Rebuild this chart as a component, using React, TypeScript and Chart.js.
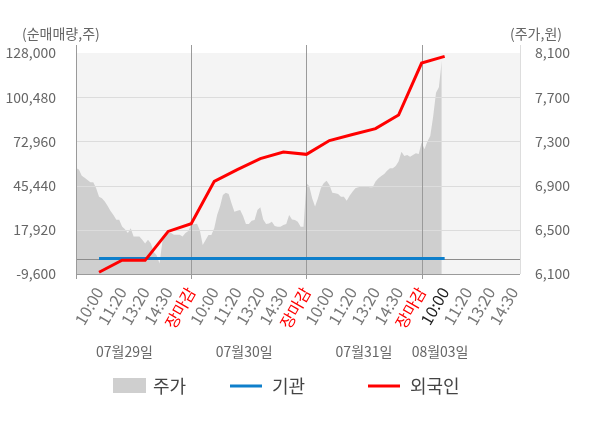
import { useEffect, useRef } from 'react';
import { Chart, registerables, type ChartOptions, type Plugin } from 'chart.js';

Chart.register(...registerables);

const FONT = '"Noto Sans CJK KR", "Noto Sans", sans-serif';

// x축 시간 라벨 (하루 5칸, 마지막 날은 진행 중)
const tickLabels = [
  '10:00', '11:20', '13:20', '14:30', '장마감',
  '10:00', '11:20', '13:20', '14:30', '장마감',
  '10:00', '11:20', '13:20', '14:30', '장마감',
  '10:00', '11:20', '13:20', '14:30',
];
const dateLabels = ['07월29일', '07월30일', '07월31일', '08월03일'];

// 순매매량 (라벨 시점마다 1개)
const foreignNet = [
  -8500, -1000, -1100, 16900, 21700, 48100, 55400, 62200,
  66400, 64900, 73500, 77300, 80900, 89400, 121700, 125900,
];
const institutionNet = [0, 0, 0, 0, 0, 0, 0, 0, 0, 0, 0, 0, 0, 0, 0, 0];

// 주가 (한 칸당 8개 샘플)
const priceDay1 = [
  7060, 7045, 6990, 6970, 6950, 6930, 6930, 6875, 6800, 6785,
  6755, 6715, 6670, 6635, 6590, 6590, 6530, 6505, 6470, 6515,
  6440, 6440, 6440, 6410, 6375, 6410, 6375, 6300, 6270, 6195,
  6395, 6455, 6470, 6470, 6455, 6455, 6455, 6440, 6470, 6490,
];
const priceDay2 = [
  6550, 6550, 6555, 6495, 6362, 6408, 6453, 6453, 6513, 6635,
  6710, 6815, 6836, 6824, 6740, 6664, 6673, 6679, 6625, 6552,
  6552, 6582, 6588, 6679, 6703, 6594, 6552, 6558, 6573, 6534,
  6528, 6528, 6543, 6552, 6635, 6594, 6588, 6573, 6528, 6528,
];
const priceDay3 = [
  6921, 6895, 6785, 6710, 6785, 6876, 6921, 6945, 6905, 6836,
  6830, 6824, 6800, 6800, 6764, 6809, 6845, 6876, 6885, 6890,
  6890, 6890, 6885, 6885, 6936, 6966, 6987, 7005, 7035, 7056,
  7056, 7077, 7117, 7207, 7168, 7177, 7162, 7177, 7192, 7186,
];
const priceDay4 = [7290, 7230, 7300, 7350, 7524, 7740, 7790, 8030];

const SAMPLES_PER_SLOT = 8;
const SLOTS_PER_DAY = 5;
const DATE_LABEL_AT = [2.1, 7.3, 12.5, 15.8];

const COLOR_PRICE = '#cfcfcf';
const COLOR_INST = '#0e7fcb';
const COLOR_FOREIGN = '#ff0000';

const App = () => {
  const canvasRef = useRef<HTMLCanvasElement | null>(null);
  const chartRef = useRef<Chart<'line'> | null>(null);

  useEffect(() => {
    if (!canvasRef.current) return;

    const prices = [...priceDay1, ...priceDay2, ...priceDay3, ...priceDay4];
    const latestTick = foreignNet.length;

    const line = (ctx: CanvasRenderingContext2D, x1: number, y1: number, x2: number, y2: number) => {
      ctx.beginPath();
      ctx.moveTo(x1, y1);
      ctx.lineTo(x2, y2);
      ctx.stroke();
    };

    const overlay: Plugin<'line'> = {
      id: 'overlay',
      beforeDatasetsDraw: (chart) => {
        const { ctx, chartArea: a } = chart;
        ctx.save();
        ctx.fillStyle = '#f4f4f4';
        ctx.fillRect(a.left, a.top, a.right - a.left, a.bottom - a.top);
        ctx.restore();
      },
      afterDatasetDraw: (chart, args) => {
        // 주가 영역 위에 격자를 그린다
        if (args.index !== 0) return;
        const { ctx, chartArea: a, scales } = chart;
        const yNet = scales.yNet;
        const x = scales.x;
        ctx.save();
        ctx.lineWidth = 1;
        ctx.strokeStyle = '#dcdcdc';
        yNet.ticks.forEach((t) => {
          if (t.value === yNet.min || t.value === yNet.max) return;
          const y = Math.round(yNet.getPixelForValue(t.value)) + 0.5;
          line(ctx, a.left, y, a.right, y);
        });
        ctx.strokeStyle = '#dddddd';
        line(ctx, Math.round(a.right) + 0.5, a.top - 8, Math.round(a.right) + 0.5, a.bottom);
        ctx.strokeStyle = '#8c8c8c';
        const zeroY = Math.round(yNet.getPixelForValue(0)) + 0.5;
        line(ctx, a.left, zeroY, a.right, zeroY);
        ctx.strokeStyle = '#9a9a9a';
        for (let d = 0; d < dateLabels.length; d++) {
          const px = Math.round(x.getPixelForValue(d * SLOTS_PER_DAY)) + 0.5;
          line(ctx, px, a.top - 8, px, a.bottom + 5);
        }
        line(ctx, a.left, Math.round(a.bottom) + 0.5, a.right, Math.round(a.bottom) + 0.5);
        ctx.restore();
      },
      afterDraw: (chart) => {
        const { ctx, scales } = chart;
        ctx.save();
        ctx.textBaseline = 'middle';
        ctx.fillStyle = '#666';
        ctx.font = `14px ${FONT}`;
        ctx.textAlign = 'left';
        ctx.fillText('(순매매량,주)', 22, 34);
        ctx.textAlign = 'right';
        ctx.fillText('(주가,원)', 562, 34);

        ctx.textAlign = 'center';
        dateLabels.forEach((d, i) => {
          ctx.fillText(d, scales.x.getPixelForValue(DATE_LABEL_AT[i]), 352);
        });

        // 범례
        const ly = 386;
        ctx.font = `18px ${FONT}`;
        ctx.textAlign = 'left';
        ctx.fillStyle = COLOR_PRICE;
        ctx.fillRect(113, 378, 33, 15);
        ctx.fillStyle = '#444';
        ctx.fillText('주가', 153, ly);
        ctx.lineWidth = 3;
        ctx.strokeStyle = COLOR_INST;
        line(ctx, 230, ly, 262, ly);
        ctx.fillText('기관', 272, ly);
        ctx.strokeStyle = COLOR_FOREIGN;
        line(ctx, 368, ly, 400, ly);
        ctx.fillText('외국인', 410, ly);
        ctx.restore();
      },
    };

    const options: ChartOptions<'line'> = {
      responsive: false,
      animation: false,
      layout: { padding: { top: 53, left: 0, right: 0, bottom: 0 } },
      plugins: {
        legend: { display: false },
        tooltip: { enabled: false },
      },
      elements: { point: { radius: 0 }, line: { tension: 0 } },
      scales: {
        x: {
          type: 'linear',
          min: 0,
          max: 19.27,
          grid: { display: false },
          border: { display: false },
          afterBuildTicks: (scale) => {
            scale.ticks = tickLabels.map((_, i) => ({ value: i + 1 }));
          },
          afterFit: (scale) => {
            scale.height = 154;
          },
          ticks: {
            autoSkip: false,
            minRotation: 60,
            maxRotation: 60,
            padding: 2,
            font: { size: 16, family: FONT },
            color: (c) => {
              const v = c.tick.value;
              if (tickLabels[v - 1] === '장마감') return COLOR_FOREIGN;
              if (v === latestTick) return '#222';
              return '#777';
            },
            callback: (v) => tickLabels[Number(v) - 1] ?? '',
          },
        },
        yNet: {
          position: 'left',
          min: -9600,
          max: 128000,
          grid: { display: false },
          border: { display: false },
          afterFit: (scale) => {
            scale.width = 76;
          },
          ticks: {
            stepSize: 27520,
            padding: 12,
            color: '#666',
            font: { size: 14, family: FONT },
            callback: (v) => Number(v).toLocaleString('en-US'),
          },
        },
        yPrice: {
          position: 'right',
          min: 6100,
          max: 8100,
          grid: { display: false },
          border: { display: false },
          afterFit: (scale) => {
            scale.width = 80;
          },
          ticks: {
            stepSize: 400,
            padding: 7,
            color: '#666',
            font: { size: 14, family: FONT },
            callback: (v) => Number(v).toLocaleString('en-US'),
          },
        },
      },
    };

    chartRef.current?.destroy();
    chartRef.current = new Chart(canvasRef.current, {
      type: 'line',
      data: {
        datasets: [
          {
            label: '주가',
            yAxisID: 'yPrice',
            data: prices.map((p, i) => ({ x: i / SAMPLES_PER_SLOT, y: p })),
            backgroundColor: COLOR_PRICE,
            borderWidth: 0,
            fill: 'start',
            order: 3,
          },
          {
            label: '기관',
            yAxisID: 'yNet',
            data: institutionNet.map((v, i) => ({ x: i + 1, y: v })),
            borderColor: COLOR_INST,
            borderWidth: 3,
            fill: false,
            order: 2,
          },
          {
            label: '외국인',
            yAxisID: 'yNet',
            data: foreignNet.map((v, i) => ({ x: i + 1, y: v })),
            borderColor: COLOR_FOREIGN,
            borderWidth: 3,
            fill: false,
            order: 1,
          },
        ],
      },
      options,
      plugins: [overlay],
    });

    return () => {
      chartRef.current?.destroy();
      chartRef.current = null;
    };
  }, []);

  return (
    <div style={{ position: 'absolute', left: 0, top: 0, width: 600, height: 428, background: '#fff' }}>
      <canvas ref={canvasRef} width={600} height={428} />
    </div>
  );
};

export default App;
